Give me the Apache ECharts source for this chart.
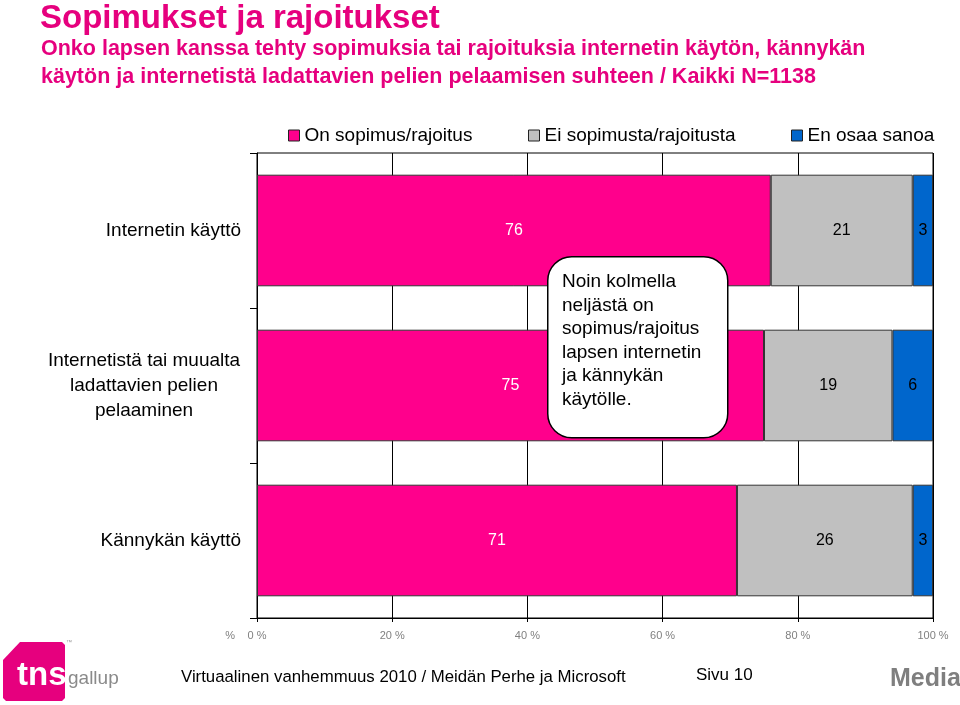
<!DOCTYPE html>
<html><head><meta charset="utf-8">
<script src="https://cdn.jsdelivr.net/npm/echarts@6/dist/echarts.min.js"></script>
<style>html,body{margin:0;padding:0;background:#fff}#c{width:960px;height:705px}</style>
</head><body><div id="c"></div>
<script>
const categories = ['Internetin käyttö', 'Internetistä tai muualta\nladattavien pelien\npelaaminen', 'Kännykän käyttö'];
const seriesNames = ['On sopimus/rajoitus', 'Ei sopimusta/rajoitusta', 'En osaa sanoa'];
const onSopimus = [76, 75, 71];
const eiSopimusta = [21, 19, 26];
const enOsaa = [3, 6, 3];
const xTicks = [0, 20, 40, 60, 80, 100];
const titleText = 'Sopimukset ja rajoitukset';
const subtitleText = 'Onko lapsen kanssa tehty sopimuksia tai rajoituksia internetin käytön, kännykän\nkäytön ja internetistä ladattavien pelien pelaamisen suhteen / Kaikki N=1138';
const calloutText = 'Noin kolmella\nneljästä on\nsopimus/rajoitus\nlapsen internetin\nja kännykän\nkäytölle.';
const footerText = 'Virtuaalinen vanhemmuus 2010 / Meidän Perhe ja Microsoft';
const pageText = 'Sivu 10';

const FONT = '"Liberation Sans", Arial, Helvetica, sans-serif';
const PINK = '#FF008C';
const GRAY = '#C0C0C0';
const BLUE = '#0066CC';
const colors = [PINK, GRAY, BLUE];
const labelColors = ['#ffffff', '#000000', '#000000'];
const values = [onSopimus, eiSopimusta, enOsaa];
const legendLeft = [283, 523, 786];

const chart = echarts.init(document.getElementById('c'), null, {renderer: 'canvas'});
const option = {
  animation: false,
  backgroundColor: '#ffffff',
  textStyle: {fontFamily: FONT},
  title: [
    {text: titleText, left: 35, top: -3, textStyle: {fontFamily: FONT, fontSize: 33, fontWeight: 'bold', color: '#E6007E', lineHeight: 34}},
    {text: subtitleText, left: 36, top: 30, textStyle: {fontFamily: FONT, fontSize: 21.5, fontWeight: 'bold', color: '#E6007E', lineHeight: 28}}
  ],
  legend: seriesNames.map((n, i) => ({
    data: [n], left: legendLeft[i], top: 121, itemWidth: 11, itemHeight: 11, itemGap: 6,
    icon: 'rect', selectedMode: false,
    itemStyle: {borderColor: '#222', borderWidth: 1},
    textStyle: {fontFamily: FONT, fontSize: 19, color: '#000'}
  })),
  grid: {left: 257, right: 27, top: 153, bottom: 87, show: true, borderColor: '#000', borderWidth: 1, containLabel: false},
  xAxis: {
    type: 'value', min: xTicks[0], max: xTicks[xTicks.length - 1], interval: xTicks[1] - xTicks[0],
    name: '%', nameLocation: 'start', nameGap: 22,
    nameTextStyle: {fontFamily: FONT, fontSize: 11, color: '#808080', verticalAlign: 'top', padding: [12, 0, 0, 0]},
    axisLine: {show: true, lineStyle: {color: '#000', width: 1}},
    axisTick: {show: true, length: 4, lineStyle: {color: '#000'}},
    splitLine: {show: true, lineStyle: {color: '#000', width: 1}},
    axisLabel: {formatter: '{value} %', fontFamily: FONT, fontSize: 11, color: '#808080', margin: 12}
  },
  yAxis: {
    type: 'category', data: categories, inverse: true,
    axisLine: {show: true, lineStyle: {color: '#000', width: 1}},
    axisTick: {show: true, length: 7, lineStyle: {color: '#000'}},
    splitLine: {show: false},
    axisLabel: {
      fontFamily: FONT, fontSize: 19, color: '#000', margin: 16, lineHeight: 25,
      formatter: function (v) {
        if (v.indexOf('\n') < 0) return v;
        return v.split('\n').map(l => '{m|' + l + '}').join('\n');
      },
      rich: {m: {width: 194, align: 'center', fontFamily: FONT, fontSize: 19, lineHeight: 25, color: '#000'}}
    }
  },
  series: seriesNames.map((n, i) => ({
    name: n, type: 'bar', stack: 'tot', barWidth: '72%', data: values[i],
    itemStyle: {color: colors[i], borderColor: '#333', borderWidth: 1},
    label: {show: true, position: 'inside', formatter: '{c}', fontFamily: FONT, fontSize: 16, color: labelColors[i]},
    emphasis: {disabled: true}
  })),
  graphic: [
    {type: 'rect', left: 547, top: 256, z: 100,
      shape: {width: 180, height: 181, r: 24},
      style: {fill: '#fff', stroke: '#000', lineWidth: 1.5}},
    {type: 'text', left: 562, top: 270, z: 101,
      style: {text: calloutText, fontFamily: FONT, fontSize: 19, lineHeight: 23.6, fill: '#000'}},
    {type: 'polygon', z: 100,
      shape: {points: [[3, 660], [20, 642], [62, 642], [65, 645], [65, 698], [62, 701], [6, 701], [3, 698]]},
      style: {fill: '#E6007E'}},
    {type: 'text', left: 17, top: 659, z: 101,
      style: {text: 'tns', fontFamily: FONT, fontSize: 33, fontWeight: 'bold', fill: '#fff'}},
    {type: 'text', left: 66, top: 639, z: 101,
      style: {text: '™', fontFamily: FONT, fontSize: 6, fill: '#999'}},
    {type: 'text', left: 68, top: 669, z: 101,
      style: {text: 'gallup', fontFamily: FONT, fontSize: 19, fill: '#8a8a8a'}},
    {type: 'text', left: 181, top: 669, z: 101,
      style: {text: footerText, fontFamily: FONT, fontSize: 16.8, fill: '#000'}},
    {type: 'text', left: 696, top: 667, z: 101,
      style: {text: pageText, fontFamily: FONT, fontSize: 17, fill: '#000'}},
    {type: 'text', left: 890, top: 667, z: 101,
      style: {text: 'Media', fontFamily: FONT, fontSize: 25, fontWeight: 'bold', fill: '#7f7f7f'}}
  ]
};
chart.setOption(option);
</script>
</body></html>
